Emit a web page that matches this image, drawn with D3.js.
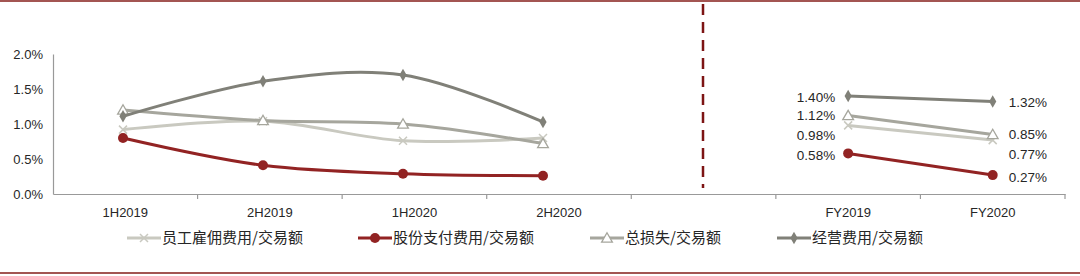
<!DOCTYPE html>
<html>
<head>
<meta charset="utf-8">
<script src="https://cdn.jsdelivr.net/npm/d3@7"></script>
<style>
  body { margin: 0; background: #fff; }
  text { font-family: "Liberation Sans", Arial, sans-serif; fill: #262626; }
  .cjk { font-family: "Noto Sans CJK SC", sans-serif; }
</style>
</head>
<body>
<script>
// categories
var halfYears = ['1H2019', '2H2019', '1H2020', '2H2020'];
var fullYears = ['FY2019', 'FY2020'];
var allCats = ['1H2019', '2H2019', '1H2020', '2H2020', '', 'FY2019', 'FY2020'];
var yTicks = [0, 0.005, 0.01, 0.015, 0.02];

// series names
var names = ['员工雇佣费用/交易额', '股份支付费用/交易额', '总损失/交易额', '经营费用/交易额'];

// half-year values
var staffH = [0.0092, 0.0104, 0.0076, 0.0080];
var shareH = [0.0080, 0.0041, 0.0029, 0.0026];
var lossH  = [0.0120, 0.0105, 0.0100, 0.0072];
var opexH  = [0.0111, 0.0161, 0.0170, 0.0103];

// full-year values
var staffY = [0.0098, 0.0077];
var shareY = [0.0058, 0.0027];
var lossY  = [0.0112, 0.0085];
var opexY  = [0.0140, 0.0132];

var width = 1080, height = 276;
var colors = ['#c9c9c0', '#922323', '#a6a69d', '#808078'];
var markers = ['x', 'circle', 'triangle', 'diamond'];
// label nudges (px) for full-year labels so they don't overlap
var nudgeL = [10, 2, 0, 1];
var nudgeR = [14, 2, 0, 1];

var svg = d3.select('body').append('svg')
  .attr('width', width).attr('height', height);

// borders
svg.append('rect').attr('x', 0).attr('y', 0).attr('width', width).attr('height', 2).attr('fill', '#a35552');
svg.append('rect').attr('x', 0).attr('y', 272).attr('width', width).attr('height', 2).attr('fill', '#a35552');

var x = d3.scaleBand().domain(allCats).range([53, 1065]);
var xHalf = d3.scalePoint().domain(halfYears).range([123, 543]);
var y = d3.scaleLinear().domain([0, 0.02]).range([194, 54]);

// y axis
var yAxis = svg.append('g').attr('transform', 'translate(53,0)')
  .call(d3.axisLeft(y).tickValues(yTicks).tickFormat(d3.format('.1%')).tickSize(0).tickPadding(10));
yAxis.select('.domain').attr('stroke', '#999').attr('stroke-width', 1.2);
yAxis.selectAll('text').style('font-size', '13px').attr('fill', '#262626');

// x axis
var xAxis = svg.append('g').attr('transform', 'translate(0,194)')
  .call(d3.axisBottom(x).tickSize(0).tickPadding(14));
xAxis.select('.domain').attr('stroke', '#999').attr('stroke-width', 1.2);
xAxis.selectAll('text').style('font-size', '13px').attr('fill', '#262626');
var bounds = allCats.map(function (c) { return x(c); }).concat([x.range()[1]]);
svg.append('g').selectAll('line').data(bounds.slice(1)).enter().append('line')
  .attr('x1', function (d) { return d; }).attr('x2', function (d) { return d; })
  .attr('y1', 194).attr('y2', 199).attr('stroke', '#999').attr('stroke-width', 1.2);

// divider
svg.append('line').attr('x1', 703).attr('x2', 703).attr('y1', 4).attr('y2', 188)
  .attr('stroke', '#7d1414').attr('stroke-width', 2.5).attr('stroke-dasharray', '11,7');

function drawMarker(g, type, cx, cy, color) {
  if (type === 'circle') {
    g.append('circle').attr('cx', cx).attr('cy', cy).attr('r', 5).attr('fill', color);
  } else if (type === 'diamond') {
    g.append('path').attr('d', d3.symbol(d3.symbolDiamond, 45)()).attr('transform', 'translate(' + cx + ',' + cy + ')').attr('fill', color);
  } else if (type === 'triangle') {
    g.append('path').attr('d', d3.symbol(d3.symbolTriangle, 50)()).attr('transform', 'translate(' + cx + ',' + (cy + 1) + ')')
      .attr('fill', '#fff').attr('stroke', color).attr('stroke-width', 1.3);
  } else {
    g.append('path').attr('d', 'M-4,-4L4,4M-4,4L4,-4').attr('transform', 'translate(' + cx + ',' + cy + ')')
      .attr('stroke', color).attr('stroke-width', 1.5).attr('fill', 'none');
  }
}

var halfData = [staffH, shareH, lossH, opexH];
var yearData = [staffY, shareY, lossY, opexY];

var smooth = d3.line().x(function (d, i) { return xHalf(halfYears[i]); }).y(function (d) { return y(d); })
  .curve(d3.curveCatmullRom.alpha(0.5));
var straight = d3.line().x(function (d, i) { return x(fullYears[i]) + x.bandwidth() / 2; }).y(function (d) { return y(d); });

var order = [0, 2, 3, 1];
order.forEach(function (s) {
  var g = svg.append('g');
  g.append('path').attr('d', smooth(halfData[s])).attr('fill', 'none')
    .attr('stroke', colors[s]).attr('stroke-width', 3);
  g.append('path').attr('d', straight(yearData[s])).attr('fill', 'none')
    .attr('stroke', colors[s]).attr('stroke-width', 3);
  halfData[s].forEach(function (v, i) { drawMarker(g, markers[s], xHalf(halfYears[i]), y(v), colors[s]); });
  yearData[s].forEach(function (v, i) { drawMarker(g, markers[s], x(fullYears[i]) + x.bandwidth() / 2, y(v), colors[s]); });
});

// full-year value labels
yearData.forEach(function (vals, s) {
  svg.append('text').attr('x', x(fullYears[0]) + x.bandwidth() / 2 - 13).attr('y', y(vals[0]) + nudgeL[s])
    .attr('dy', '0.35em').attr('text-anchor', 'end').style('font-size', '13.5px').text(d3.format('.2%')(vals[0]));
  svg.append('text').attr('x', x(fullYears[1]) + x.bandwidth() / 2 + 16).attr('y', y(vals[1]) + nudgeR[s])
    .attr('dy', '0.35em').style('font-size', '13.5px').text(d3.format('.2%')(vals[1]));
});

// legend
var legendX = [127, 358, 590, 777];
names.forEach(function (n, s) {
  var g = svg.append('g').attr('transform', 'translate(' + legendX[s] + ',238)');
  g.append('line').attr('x1', 0).attr('x2', 34).attr('stroke', colors[s]).attr('stroke-width', 3);
  drawMarker(g, markers[s], 17, 0, colors[s]);
  g.append('text').attr('class', 'cjk').attr('x', 35).attr('dy', '0.35em')
    .style('font-size', '15px').text(n);
});
</script>
</body>
</html>
